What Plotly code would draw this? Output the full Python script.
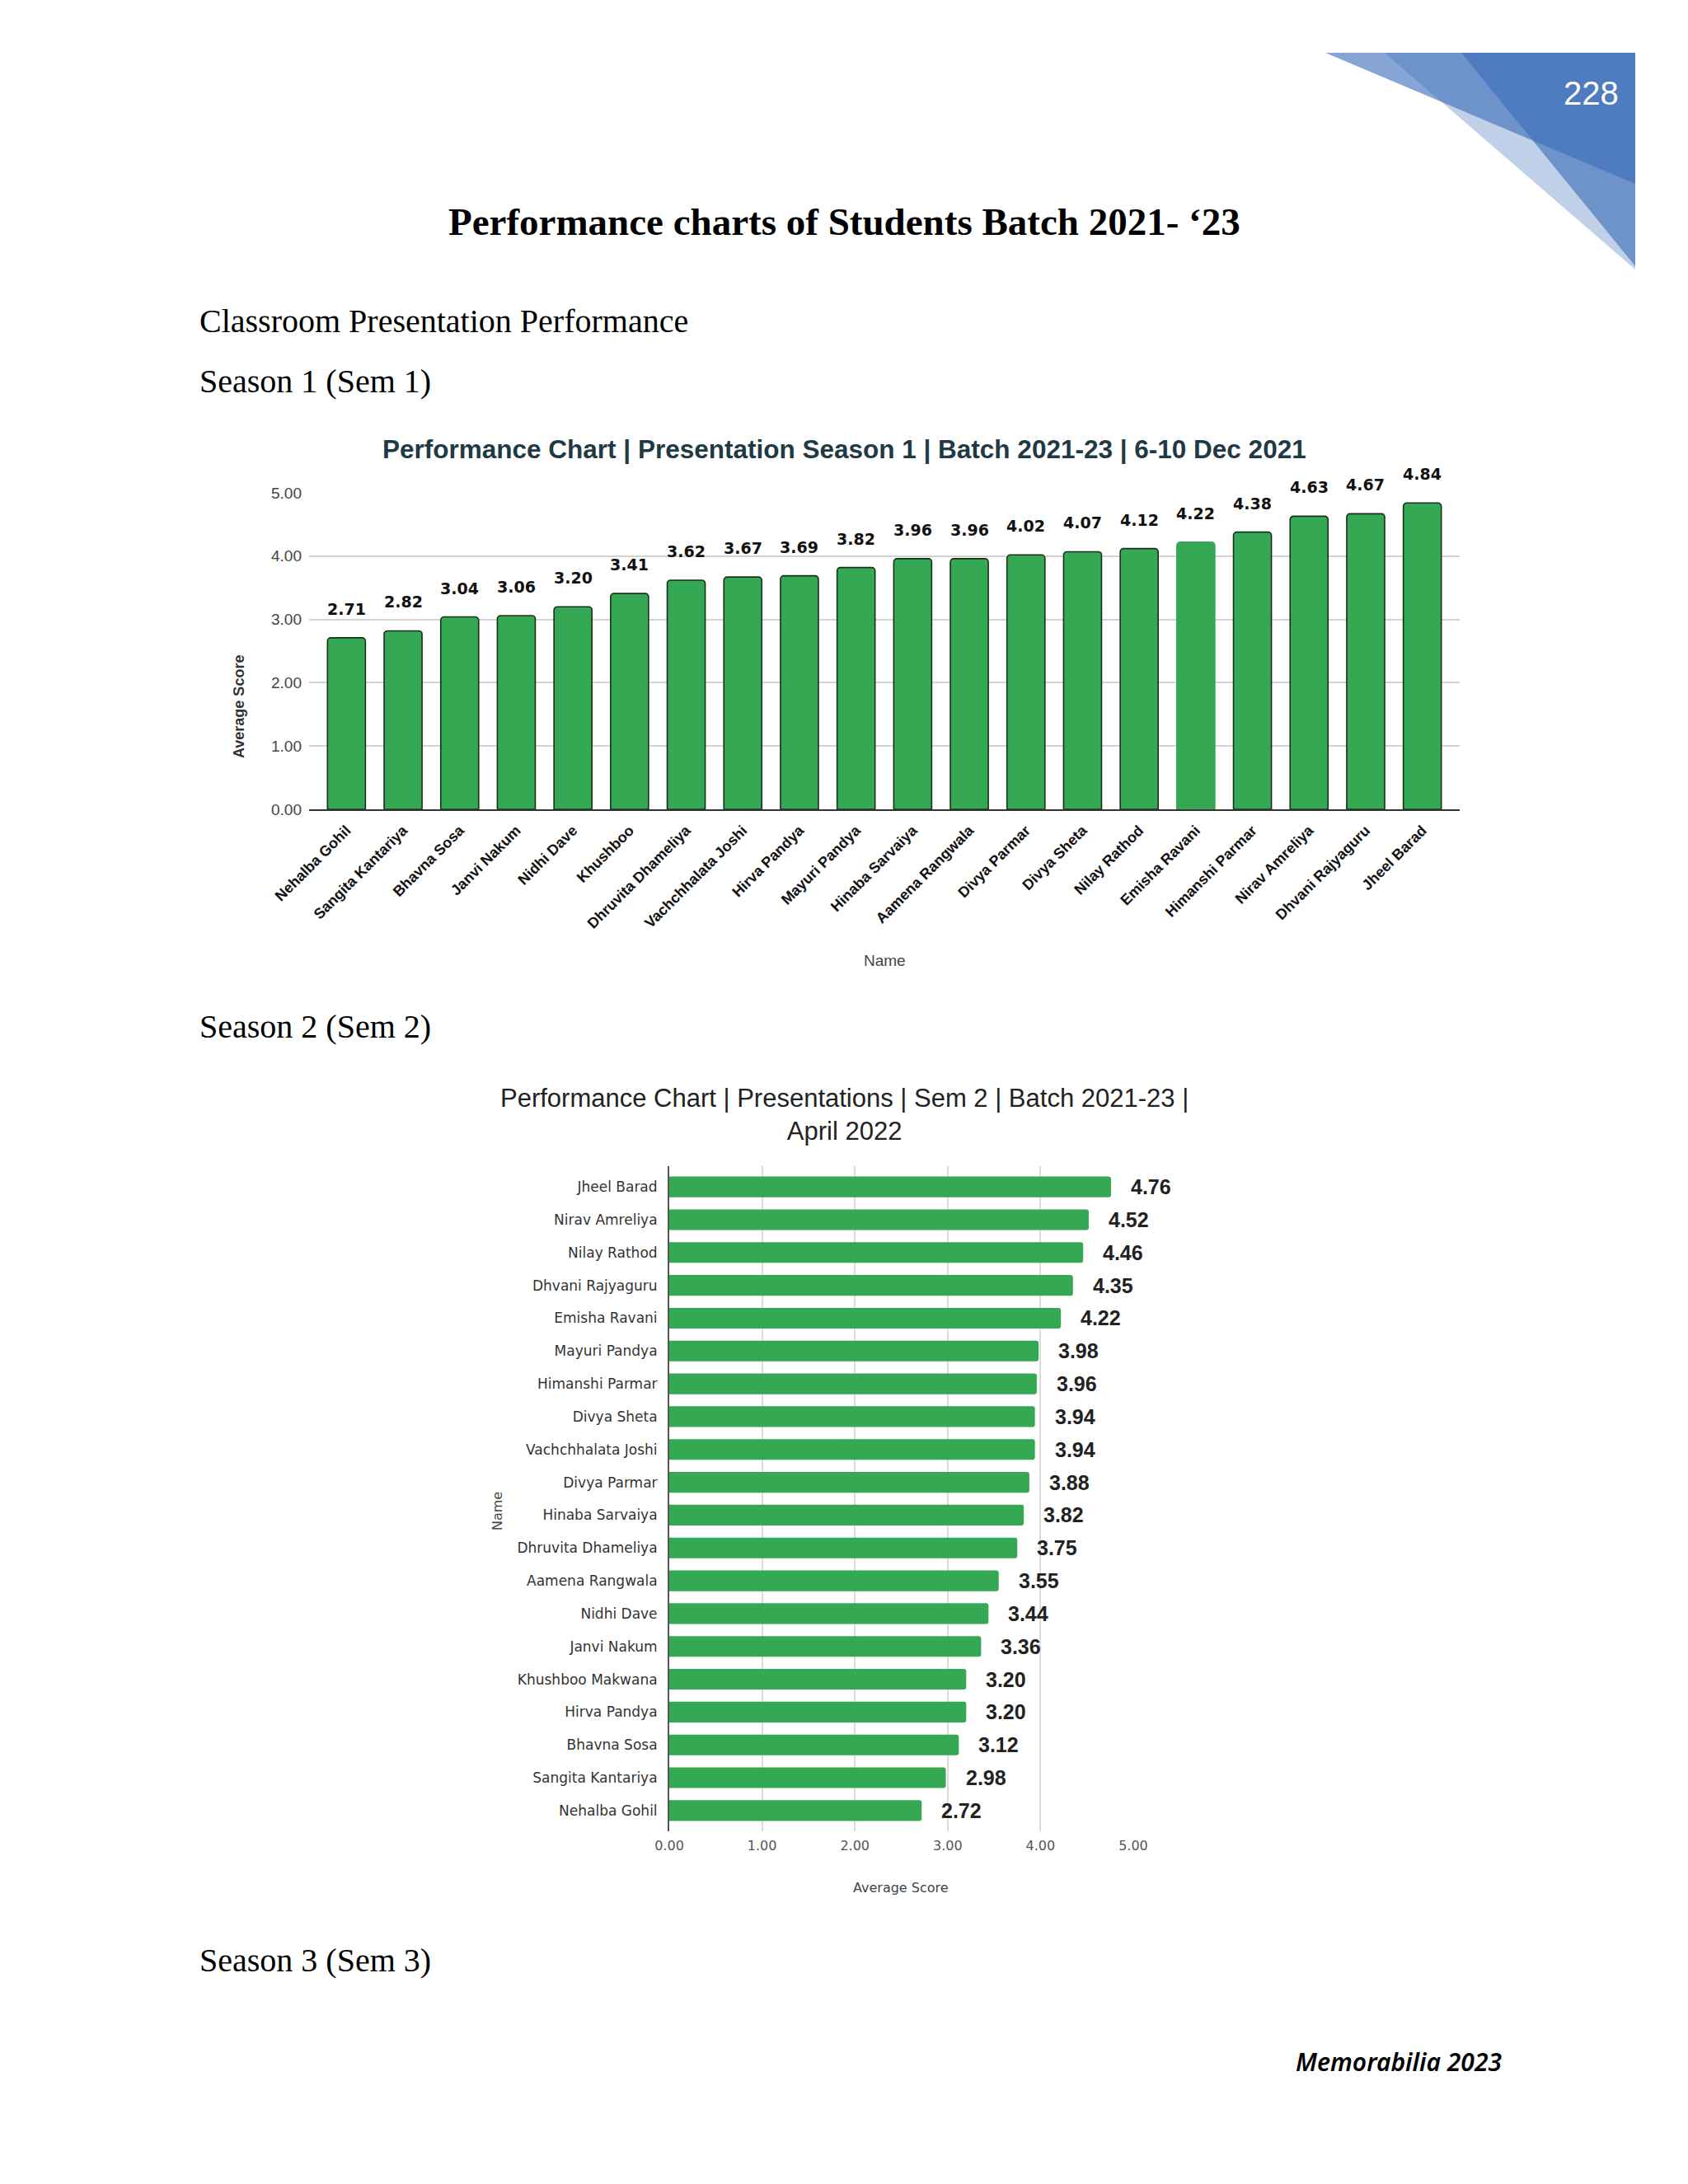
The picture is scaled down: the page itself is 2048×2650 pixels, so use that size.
import plotly.graph_objects as go

W, H = 2048, 2650


def px(x):
    return x / W


def py(y):
    return 1 - y / H


# ---------------- data ----------------
s1_names = [
    "Nehalba Gohil", "Sangita Kantariya", "Bhavna Sosa", "Janvi Nakum", "Nidhi Dave",
    "Khushboo", "Dhruvita Dhameliya", "Vachchhalata Joshi", "Hirva Pandya", "Mayuri Pandya",
    "Hinaba Sarvaiya", "Aamena Rangwala", "Divya Parmar", "Divya Sheta", "Nilay Rathod",
    "Emisha Ravani", "Himanshi Parmar", "Nirav Amreliya", "Dhvani Rajyaguru", "Jheel Barad",
]
s1_scores = [2.71, 2.82, 3.04, 3.06, 3.20, 3.41, 3.62, 3.67, 3.69, 3.82,
             3.96, 3.96, 4.02, 4.07, 4.12, 4.22, 4.38, 4.63, 4.67, 4.84]
s1_ticks = [0, 1, 2, 3, 4, 5]

s2_names = [
    "Jheel Barad", "Nirav Amreliya", "Nilay Rathod", "Dhvani Rajyaguru", "Emisha Ravani",
    "Mayuri Pandya", "Himanshi Parmar", "Divya Sheta", "Vachchhalata Joshi", "Divya Parmar",
    "Hinaba Sarvaiya", "Dhruvita Dhameliya", "Aamena Rangwala", "Nidhi Dave", "Janvi Nakum",
    "Khushboo Makwana", "Hirva Pandya", "Bhavna Sosa", "Sangita Kantariya", "Nehalba Gohil",
]
s2_scores = [4.76, 4.52, 4.46, 4.35, 4.22, 3.98, 3.96, 3.94, 3.94, 3.88,
             3.82, 3.75, 3.55, 3.44, 3.36, 3.20, 3.20, 3.12, 2.98, 2.72]
s2_ticks = [0, 1, 2, 3, 4, 5]

GREEN = "#34a853"
OUTLINE = "#1c2e1c"

fig = go.Figure()

# Season 1 vertical bars
fig.add_trace(go.Bar(
    x=s1_names, y=s1_scores, width=0.67,
    marker=dict(color=GREEN,
                line=dict(color=[GREEN if n == "Emisha Ravani" else OUTLINE for n in s1_names],
                          width=1.6),
                cornerradius=4),
    xaxis="x", yaxis="y", hoverinfo="skip", cliponaxis=False,
))

# Season 2 horizontal bars
fig.add_trace(go.Bar(
    x=s2_scores, y=s2_names, orientation="h", width=0.63,
    marker=dict(color=GREEN, line=dict(width=0), cornerradius=3),
    xaxis="x2", yaxis="y2", hoverinfo="skip", cliponaxis=False,
))

annotations = []

# data labels chart 1
for n, v in zip(s1_names, s1_scores):
    annotations.append(dict(
        x=n, y=v, xref="x", yref="y", text=f"{v:.2f}", showarrow=False,
        yanchor="middle", yshift=35,
        font=dict(family="DejaVu Sans", size=19, color="#111111", weight=700),
    ))

# data labels chart 2
for n, v in zip(s2_names, s2_scores):
    annotations.append(dict(
        x=v, y=n, xref="x2", yref="y2", text=f"{v:.2f}", showarrow=False,
        xanchor="left", yanchor="middle", xshift=22,
        font=dict(family="Liberation Sans", size=25, color="#222222", weight=700),
    ))


def page_text(x, y, text, size, family="Liberation Serif", color="#000000", xanchor="left",
              weight=400, style="normal", angle=0):
    annotations.append(dict(
        x=px(x), y=py(y), xref="paper", yref="paper", text=text, showarrow=False,
        xanchor=xanchor, yanchor="middle", textangle=angle,
        font=dict(family=family, size=size, color=color, weight=weight, style=style),
    ))


# page texts
page_text(1930, 113, "228", 40, family="Liberation Sans", color="#ffffff", xanchor="center")
page_text(1024, 269, "Performance charts of Students Batch 2021- \u201823", 47, xanchor="center", weight=700)
page_text(240, 389, "Classroom Presentation Performance", 40)
page_text(240, 462, "Season 1 (Sem 1)", 40)
page_text(240, 1245, "Season 2 (Sem 2)", 40)
page_text(240, 2378, "Season 3 (Sem 3)", 40)
page_text(1697, 2501, "Memorabilia 2023", 30, family="Noto Sans", style="italic", weight=600,
          xanchor="center")

# chart 1 titles
page_text(1024, 545, "Performance Chart | Presentation Season 1 | Batch 2021-23 | 6-10 Dec 2021", 31.5,
          family="Liberation Sans", color="#1f3a44", xanchor="center", weight=700)
page_text(290, 858, "Average Score", 18, family="Liberation Sans", color="#333333",
          xanchor="center", weight=700, angle=-90)
page_text(1073, 1165, "Name", 19, family="Liberation Sans", color="#444444", xanchor="center")

# chart 2 titles
page_text(1024, 1352, "Performance Chart | Presentations | Sem 2 | Batch 2021-23 |<br>April 2022", 31,
          family="Liberation Sans", color="#222222", xanchor="center")
page_text(603, 1834, "Name", 16, family="DejaVu Sans", color="#444444", xanchor="center", angle=-90)
page_text(1093, 2290, "Average Score", 16, family="DejaVu Sans", color="#444444", xanchor="center")

# corner decoration (translucent layered triangles)
base = "60,110,185"
shapes = []


def tri(pts, alpha):
    path = "M " + " L ".join(f"{px(x)},{py(y)}" for x, y in pts) + " Z"
    shapes.append(dict(type="path", path=path, xref="paper", yref="paper",
                       fillcolor=f"rgba({base},{alpha})", line=dict(width=0), layer="above"))


tri([(1608, 64), (1984, 64), (1984, 223)], 0.62)
tri([(1680, 64), (1984, 64), (1984, 327)], 0.32)
tri([(1773, 64), (1984, 64), (1984, 323)], 0.62)

fig.update_layout(
    width=W, height=H,
    margin=dict(l=0, r=0, t=0, b=0, pad=0, autoexpand=False),
    paper_bgcolor="#ffffff", plot_bgcolor="#ffffff",
    showlegend=False,
    annotations=annotations,
    shapes=shapes,
    xaxis=dict(
        domain=[px(375), px(1771)], anchor="y", type="category", automargin=False,
        categoryorder="array", categoryarray=s1_names,
        range=[-0.66, len(s1_names) - 1 + 0.66],
        tickangle=-45, ticks="", showgrid=False, zeroline=False,
        showline=True, linecolor="#333333", linewidth=2,
        tickfont=dict(family="Liberation Sans", size=18, color="#111111", weight=700),
        ticklabelstandoff=6, fixedrange=True,
    ),
    yaxis=dict(
        domain=[py(982), py(598)], anchor="x", automargin=False,
        range=[0, 5.0001], tickvals=s1_ticks, tickformat=".2f",
        showgrid=True, gridcolor="#d3d3d3", gridwidth=1.5, zeroline=False, showline=False,
        tickfont=dict(family="Liberation Sans", size=19, color="#444444"),
        ticklabelstandoff=8, fixedrange=True,
    ),
    xaxis2=dict(
        domain=[px(812), px(1375)], anchor="y2", automargin=False,
        range=[0, 5.0001], tickvals=s2_ticks, tickformat=".2f",
        showgrid=True, gridcolor="#dcdcdc", gridwidth=1.5, zeroline=False, showline=False,
        tickfont=dict(family="DejaVu Sans", size=16, color="#555555"),
        ticklabelstandoff=6, fixedrange=True,
    ),
    yaxis2=dict(
        domain=[py(2222), py(1415)], anchor="x2", type="category", automargin=False,
        categoryorder="array", categoryarray=s2_names,
        range=[len(s2_names) - 1 + 0.63, -0.63],
        showgrid=False, zeroline=False, ticks="",
        showline=True, linecolor="#555555", linewidth=2,
        tickfont=dict(family="DejaVu Sans", size=17, color="#333333"),
        ticklabelstandoff=9, fixedrange=True,
    ),
)

fig.write_html("out.html", config={"displayModeBar": False},
               post_script="document.body.style.margin='0';")
